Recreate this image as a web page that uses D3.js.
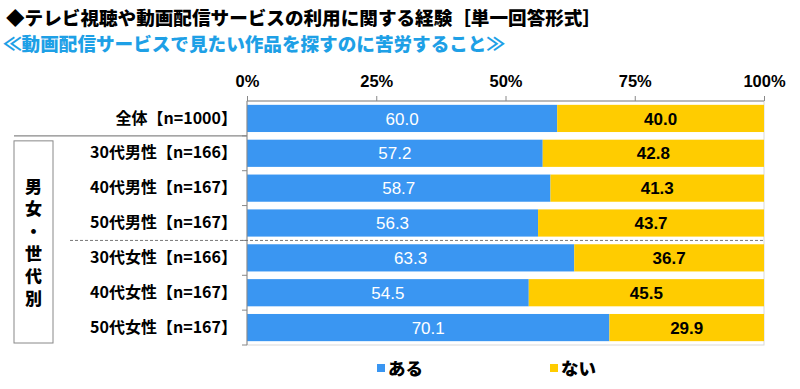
<!DOCTYPE html>
<html>
<head>
<meta charset="utf-8">
<script src="https://cdn.jsdelivr.net/npm/d3@7"></script>
<style>
  body { margin: 0; background: #fff; }
  text { font-family: "Noto Sans CJK JP", "Noto Sans", sans-serif; }
</style>
</head>
<body>
<svg id="chart" width="800" height="389"></svg>
<script>
// categories and values
let categories = ["全体【n=1000】", "30代男性【n=166】", "40代男性【n=167】", "50代男性【n=167】",
                  "30代女性【n=166】", "40代女性【n=167】", "50代女性【n=167】"];
let aru = [60.0, 57.2, 58.7, 56.3, 63.3, 54.5, 70.1];
let nai = [40.0, 42.8, 41.3, 43.7, 36.7, 45.5, 29.9];
let seriesNames = ["ある", "ない"];
let tickValues = [0, 25, 50, 75, 100];
let groupLabel = "男女・世代別";

let svg = d3.select("#chart");
let colors = ["#3a96f2", "#ffcc00"];

let plotLeft = 247, plotRight = 764, plotTop = 101, plotBottom = 345;

let x = d3.scaleLinear().domain([0, 100]).range([plotLeft, plotRight]);
let y = d3.scaleBand().domain(categories).range([plotTop, plotBottom]).paddingInner(0.22).paddingOuter(0.11);

// titles
svg.append("text").attr("x", 6).attr("y", 25)
  .attr("font-size", 18.6).attr("font-weight", 900).attr("fill", "#000")
  .text("◆テレビ視聴や動画配信サービスの利用に関する経験［単一回答形式］");
svg.append("text").attr("x", 3).attr("y", 51)
  .attr("font-size", 18.6).attr("font-weight", 900).attr("fill", "#1ea0e6")
  .text("≪動画配信サービスで見たい作品を探すのに苦労すること≫");

// plot frame (light)
svg.append("rect").attr("x", plotLeft).attr("y", plotTop).attr("width", plotRight - plotLeft).attr("height", plotBottom - plotTop)
  .attr("fill", "none").attr("stroke", "#d9d9d9");

// stacked bars
let rows = categories.map((c, i) => ({cat: c, vals: [aru[i], nai[i]]}));
rows.forEach(r => {
  let x0 = 0;
  r.vals.forEach((v, j) => {
    svg.append("rect")
      .attr("x", x(x0)).attr("y", y(r.cat))
      .attr("width", x(x0 + v) - x(x0)).attr("height", y.bandwidth())
      .attr("fill", colors[j]);
    svg.append("text")
      .attr("x", x(x0 + v / 2)).attr("y", y(r.cat) + y.bandwidth() / 2)
      .attr("dy", "0.36em").attr("text-anchor", "middle")
      .attr("font-size", 17).attr("font-weight", j === 1 ? "bold" : "normal")
      .attr("fill", j === 0 ? "#fff" : "#000")
      .style("font-family", "'Liberation Sans', Arial, sans-serif")
      .text(v.toFixed(1));
    x0 += v;
  });
});

// top axis
let xAxis = d3.axisTop(x).tickValues(tickValues).tickSize(5).tickFormat(d => d + "%");
let gx = svg.append("g").attr("transform", "translate(0," + plotTop + ")").call(xAxis);
gx.select(".domain").attr("stroke", "#888").attr("d", "M" + plotLeft + ",0H" + plotRight);
gx.selectAll(".tick line").attr("stroke", "#888");
gx.selectAll(".tick text").attr("font-size", 16.5).attr("font-weight", "bold").attr("fill", "#000")
  .attr("y", -14).style("font-family", "'Liberation Sans', Arial, sans-serif");

// left axis
let step = y.step();
let yAxis = d3.axisLeft(y).tickSize(0).tickPadding(10);
let gy = svg.append("g").attr("transform", "translate(" + plotLeft + ",0)").call(yAxis);
gy.select(".domain").attr("stroke", "#888").attr("d", "M0," + plotTop + "V" + plotBottom);
gy.selectAll(".tick text").attr("font-size", 16).attr("font-weight", "bold").attr("fill", "#000")
  .style("font-family", "'Noto Sans CJK JP', sans-serif");

// small ticks at row boundaries
categories.forEach((c, i) => {
  let yy = y(c) + y.bandwidth() + (step - y.bandwidth()) / 2;
  svg.append("line").attr("x1", plotLeft - 5).attr("x2", plotLeft).attr("y1", yy).attr("y2", yy).attr("stroke", "#888");
});

// separators
let sep1 = y(categories[1]) - (step - y.bandwidth()) / 2;
svg.append("line").attr("x1", 14).attr("x2", plotLeft).attr("y1", sep1).attr("y2", sep1)
  .attr("stroke", "#888").attr("stroke-width", 1.2);
let sep2 = y(categories[4]) - (step - y.bandwidth()) / 2;
svg.append("line").attr("x1", 70).attr("x2", plotRight).attr("y1", sep2).attr("y2", sep2)
  .attr("stroke", "#777").attr("stroke-dasharray", "3,2");

// group box with vertical label
svg.append("rect").attr("x", 14).attr("y", sep1 + 5).attr("width", 39).attr("height", plotBottom - 2 - sep1 - 5)
  .attr("fill", "#fff").attr("stroke", "#888");
svg.append("text").attr("x", 33.5).attr("y", 178)
  .style("writing-mode", "vertical-rl").style("glyph-orientation-vertical", 0)
  .attr("letter-spacing", 5.5)
  .attr("font-size", 17).attr("font-weight", 900).attr("fill", "#000")
  .text(groupLabel);

// legend
let legendX = [377, 550];
seriesNames.forEach((n, i) => {
  svg.append("rect").attr("x", legendX[i]).attr("y", 364).attr("width", 8).attr("height", 8).attr("fill", colors[i]);
  svg.append("text").attr("x", legendX[i] + 11).attr("y", 375)
    .attr("font-size", 17.5).attr("font-weight", 900).attr("fill", "#000").text(n);
});
</script>
</body>
</html>
